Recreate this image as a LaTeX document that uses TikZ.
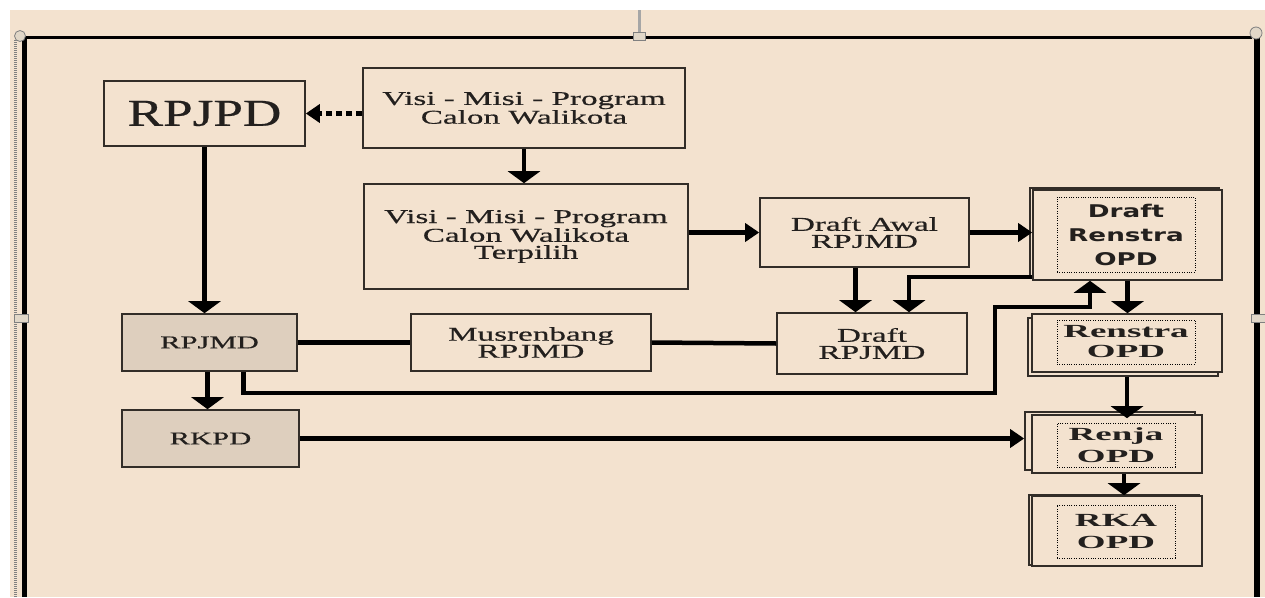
\documentclass[tikz,border=0pt]{standalone}
\usepackage{fontspec}
\setmainfont{Liberation Serif}[FakeStretch=1.7,FakeBold=0.6]
\newfontfamily\bigfont{Liberation Serif}[FakeStretch=1.4,FakeBold=0.6]
\newfontfamily\sansb{DejaVu Sans}[FakeStretch=1.5]
\newfontfamily\serifb{Liberation Serif}[FakeStretch=2.0]
\usetikzlibrary{arrows.meta,shadows}
\definecolor{bg}{RGB}{243,226,207}
\definecolor{gfill}{RGB}{222,207,190}
\definecolor{edge}{RGB}{50,45,40}
\definecolor{txt}{RGB}{35,32,30}
\definecolor{handle}{RGB}{225,215,200}
\begin{document}
\begin{tikzpicture}[x=1pt,y=-1pt,
  box/.style={draw=edge, line width=1.6pt, fill=bg, inner sep=0pt, text=txt, align=center,
    font=\fontsize{19.5}{17}\selectfont},
  gbox/.style={box, fill=gfill, font=\fontsize{18}{17}\selectfont},
  obox/.style={draw=edge, line width=1.6pt, fill=bg, inner sep=0pt},
  dotbox/.style={draw=black, line width=1pt, dash pattern=on 1pt off 1.4pt, inner sep=0pt, align=center, text=txt},
  conn/.style={draw=black, line width=4.5pt},
  vtip/.style={-{Triangle[width=32pt,length=12pt]}},
  htip/.style={-{Triangle[width=18pt,length=14pt]}}]
\useasboundingbox (0,0) rectangle (1265,597);
% background
\fill[white] (0,0) rectangle (1265,597);
\fill[bg] (10,10) rectangle (1265,597);
% frame
\draw[gray!70, line width=3pt] (639,10) -- (639,32);
\draw[black, line width=3pt] (20,37) -- (1252,37);
\draw[gray, line width=3pt, dash pattern=on 1pt off 1pt] (15,40) -- (15,597);
\draw[black, line width=5pt] (24,37) -- (24,597);
\draw[black, line width=6pt] (1257,33) -- (1257,597);
\draw[gray, fill=handle, line width=0.8pt] (20,36) circle (5.5);
\draw[gray, fill=handle, line width=0.8pt] (1256,33) circle (6);
\draw[gray, fill=handle, line width=0.8pt] (633,32) rectangle (645,40);
\draw[gray, fill=handle, line width=0.8pt] (14,314) rectangle (28,322);
\draw[gray, fill=handle, line width=0.8pt] (1251,314) rectangle (1265,322);
% nodes
\node[box, minimum width=201pt, minimum height=65pt, font=\bigfont\fontsize{38}{40}\selectfont] (rpjpd) at (204.5,113.5) {RPJPD};
\node[box, minimum width=322pt, minimum height=80pt] (visi1) at (524,108) {Visi - Misi - Program\\Calon Walikota};
\node[box, minimum width=324pt, minimum height=105pt] (visi2) at (526,236.5) {Visi - Misi - Program\\Calon Walikota\\Terpilih};
\node[box, minimum width=209pt, minimum height=69pt] (awal) at (864.5,232.5) {Draft Awal\\RPJMD};
\node[gbox, minimum width=175pt, minimum height=57pt] (rpjmd) at (209.5,342.5) {RPJMD};
\node[gbox, minimum width=177pt, minimum height=57pt] (rkpd) at (210.5,438.5) {RKPD};
\node[box, minimum width=240pt, minimum height=57pt] (mus) at (531,342.5) {Musrenbang\\RPJMD};
\node[box, minimum width=190pt, minimum height=61pt] (draft) at (872,343.5) {Draft\\RPJMD};
% right column
\node[obox, minimum width=189pt, minimum height=90pt,
  copy shadow={shadow xshift=-3pt, shadow yshift=2pt, fill=bg, draw=edge, line width=1.6pt}] (drs) at (1127.5,235) {};
\node[dotbox, minimum width=138pt, minimum height=75pt, font=\sansb\bfseries\fontsize{17.5}{24}\selectfont] (drsT) at (1126,234.5) {Draft\\Renstra\\OPD};
\node[obox, minimum width=190pt, minimum height=58pt,
  copy shadow={shadow xshift=-4pt, shadow yshift=-4pt, fill=bg, draw=edge, line width=1.6pt}] (ren) at (1127,343) {};
\node[dotbox, minimum width=138pt, minimum height=44pt, font=\serifb\bfseries\fontsize{18.5}{20}\selectfont] (renT) at (1126,342) {Renstra\\OPD};
\node[obox, minimum width=170pt, minimum height=58pt,
  copy shadow={shadow xshift=-7pt, shadow yshift=3pt, fill=bg, draw=edge, line width=1.6pt}] (renja) at (1117,444) {};
\node[dotbox, minimum width=118pt, minimum height=44pt, font=\serifb\bfseries\fontsize{18.5}{22}\selectfont] (renjaT) at (1116,445) {Renja\\OPD};
\node[obox, minimum width=170pt, minimum height=70pt,
  copy shadow={shadow xshift=-3pt, shadow yshift=1pt, fill=bg, draw=edge, line width=1.6pt}] (rka) at (1117,531) {};
\node[dotbox, minimum width=118pt, minimum height=53pt, font=\serifb\bfseries\fontsize{18.5}{22}\selectfont] (rkaT) at (1116,531.5) {RKA\\OPD};
% helper coordinates
\coordinate (k1) at (995,393);
\coordinate (k2) at (1090,307);
% connectors
\draw[conn, htip, dash pattern=on 6pt off 4pt] (visi1.west |- rpjpd.east) -- (rpjpd.east);
\draw[conn, vtip] (rpjpd.south) -- (rpjpd.south |- rpjmd.north);
\draw[conn, vtip] (visi1.south) -- (visi1.south |- visi2.north);
\draw[conn, htip] (visi2.east |- awal.west) -- (awal.west);
\draw[conn, htip] (awal.east) -- (awal.east -| drs.west);
\draw[conn, vtip] ([xshift=-9pt]awal.south) -- ([xshift=-9pt]awal.south |- draft.north);
\draw[conn, vtip] ([yshift=4pt]drs.south west) -| ([xshift=37pt]draft.north);
\draw[conn] (rpjmd.east) -- (mus.west);
\draw[conn] (mus.east) -- (draft.west);
\draw[conn, vtip] ([xshift=-2pt]rpjmd.south) -- ([xshift=-2pt]rpjmd.south |- rkpd.north);
\draw[conn, vtip] ([xshift=34pt]rpjmd.south) |- (k1) |- (k2) -- (k2 |- drs.south);
\draw[conn, vtip] (drs.south) -- (drs.south |- ren.north);
\draw[conn, vtip] ([yshift=-4pt]ren.south) -- ([yshift=-4pt]ren.south |- renja.north);
\draw[conn, vtip] ([xshift=7pt]renja.south) -- ([xshift=7pt]renja.south |- rka.north);
\draw[conn, htip] (rkpd.east) -- ([xshift=-7pt]rkpd.east -| renja.west);
\end{tikzpicture}
\end{document}
